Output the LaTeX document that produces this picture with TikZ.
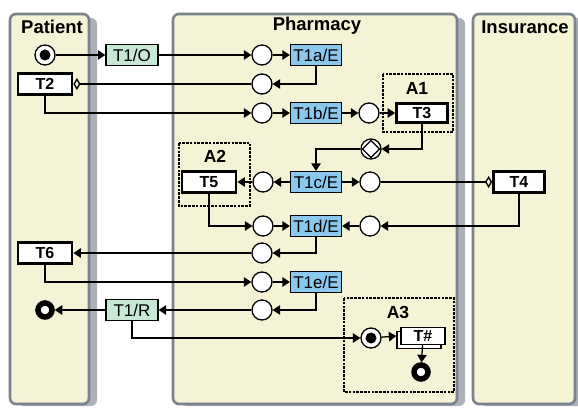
\documentclass[tikz,border=0pt]{standalone}
\usepackage{fontspec}
\setmainfont{Liberation Sans}
\usetikzlibrary{arrows.meta,shadows}

\definecolor{lanefill}{RGB}{244,243,214}
\definecolor{laneline}{RGB}{122,130,140}
\definecolor{laneshade}{RGB}{172,178,186}
\definecolor{mint}{RGB}{198,232,212}
\definecolor{skyblue}{RGB}{138,200,238}

\begin{document}
\begin{tikzpicture}[
    x=1pt,
    y=-1pt,
    >={Triangle[length=7.5pt,width=9.5pt]},
    lane/.style={draw=laneline, fill=lanefill, line width=2.6pt, rounded corners=6pt},
    laneshadow/.style={fill=laneshade, rounded corners=6pt},
    title/.style={font=\fontsize{18.5}{20}\selectfont\bfseries},
    grouplabel/.style={font=\fontsize{17.5}{19}\selectfont\bfseries},
    group/.style={draw, line width=2.8pt, dash pattern=on 2.6pt off 1.2pt},
    extbox/.style={draw, line width=1.3pt, fill=mint, minimum width=52pt, minimum height=21pt, inner sep=0pt, font=\fontsize{17}{18}\selectfont},
    intbox/.style={draw, line width=1.3pt, fill=skyblue, minimum width=51pt, minimum height=21pt, inner sep=0pt, font=\fontsize{17}{18}\selectfont},
    task/.style={draw, line width=2.8pt, fill=white, minimum width=51pt, minimum height=19pt, inner sep=0pt, font=\fontsize{16}{17}\selectfont\bfseries},
    place/.style={circle, draw, line width=1.3pt, fill=white, minimum size=20pt, inner sep=0pt},
    start/.style={place, path picture={\fill[black] (path picture bounding box.center) circle (5.5pt);}},
    stop/.style={circle, draw, line width=5.5pt, fill=white, minimum size=14pt, inner sep=0pt},
    gate/.style={place, path picture={\draw[black, line width=1.3pt] (path picture bounding box.center) ++(0,8.5) -- ++(8.5,-8.5) -- ++(-8.5,-8.5) -- ++(-8.5,8.5) -- cycle;}},
    line/.style={->, line width=1.3pt},
    msg/.style={-{Diamond[open,length=7pt,width=12pt]}, line width=1.3pt}
]
\useasboundingbox (0,0) rectangle (578,409);

\fill[laneshadow] (18,18) rectangle (97,406);
\fill[laneshadow] (181,18) rectangle (465,406);
\fill[laneshadow] (480,18) rectangle (584,406);
\draw[lane] (10,14) rectangle (89,404);
\draw[lane] (173,14) rectangle (457,404);
\draw[lane] (473,14) rectangle (575,404);

\node[title] (patient) at (52,27) {Patient};
\node[title] (pharmacy) at (317,26) {Pharmacy};
\node[title] (insurance) at (525,27) {Insurance};

\draw[group] (383,74) rectangle (453,132);
\draw[group] (179,143) rectangle (250,206);
\draw[group] (344,298) rectangle (454,392);
\node[grouplabel] (a1) at (417,88) {A1};
\node[grouplabel] (a2) at (215,156) {A2};
\node[grouplabel] (a3) at (398,312) {A3};

\node[start] (s1) at (45,55) {};
\node[extbox] (t1o) at (132,55) {T1/O};
\node[place] (c1) at (262,55) {};
\node[intbox] (t1a) at (316,55) {T1a/E};
\node[task, minimum width=54pt, minimum height=21pt] (t2) at (45,84) {T2};
\node[place] (c2) at (262,84) {};
\node[place] (c3) at (262,113) {};
\node[intbox] (t1b) at (316,113) {T1b/E};
\node[place] (c3b) at (369,113) {};
\node[task] (t3) at (422,113) {T3};
\node[gate] (gw) at (371,149) {};
\node[task, minimum width=54pt, minimum height=21pt] (t5) at (209,182) {T5};
\node[place] (c5a) at (263,182) {};
\node[intbox] (t1c) at (316,182) {T1c/E};
\node[place] (c5b) at (370,182) {};
\node[task, minimum height=21pt] (t4) at (519,182) {T4};
\node[place] (c6a) at (263,226) {};
\node[intbox] (t1d) at (316,226) {T1d/E};
\node[place] (c6b) at (370,226) {};
\node[place] (c7) at (262,253) {};
\node[task, minimum width=54pt, minimum height=21pt] (t6) at (45,253) {T6};
\node[place] (c8) at (262,282) {};
\node[intbox] (t1e) at (316,282) {T1e/E};
\node[place] (c9) at (262,310) {};
\node[extbox] (t1r) at (132,310) {T1/R};
\node[stop] (e1) at (45,310) {};
\node[start] (s2) at (371,338) {};
\node[draw, line width=1.3pt, fill=white, minimum width=44pt, minimum height=17pt, inner sep=0pt, font=\fontsize{16}{17}\selectfont\bfseries,
      copy shadow={shadow xshift=-4pt, shadow yshift=-4pt, fill=white, draw, line width=1.3pt}] (tm) at (423,336) {T\#};
\node[stop] (e2) at (421,372) {};

\draw[line] (s1) -- (t1o);
\draw[line] (t1o) -- (c1);
\draw[line] (c1) -- (t1a);
\draw[line] (t1a.south) |- (c2.east);
\draw[msg] (c2) -- (t2);
\draw[line] (t2.south) |- (c3.west);
\draw[line] (c3) -- (t1b);
\draw[line] (t1b) -- (c3b);
\draw[line] (c3b) -- (t3);
\draw[line] (t3.south) |- (gw.east);
\draw[line] (gw.west) -| (t1c.north);
\draw[line] (t1c) -- (c5a);
\draw[line] (c5a) -- (t5);
\draw[line] (t1c) -- (c5b);
\draw[msg] (c5b) -- (t4);
\draw[line] (t5.south) |- (c6a.west);
\draw[line] (c6a) -- (t1d);
\draw[line] (t4.south) |- (c6b.east);
\draw[line] (c6b) -- (t1d);
\draw[line] (t1d.south) |- (c7.east);
\draw[line] (c7) -- (t6);
\draw[line] (t6.south) |- (c8.west);
\draw[line] (c8) -- (t1e);
\draw[line] (t1e.south) |- (c9.east);
\draw[line] (c9) -- (t1r);
\draw[line] (t1r) -- (e1);
\draw[line] (t1r.south) |- (s2.west);
\draw[line] (s2) -- ([xshift=-4pt]tm.west);
\draw[line] (tm) -- (e2);
\end{tikzpicture}
\end{document}
